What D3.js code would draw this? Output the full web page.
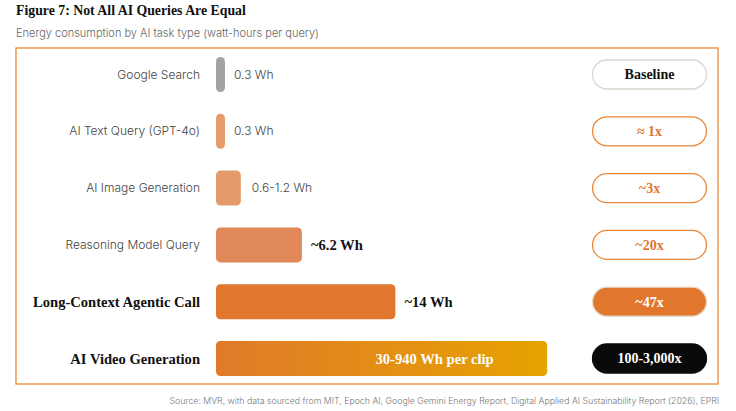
<!DOCTYPE html>
<html>
<head>
<meta charset="utf-8">
<title>Figure 7</title>
<script src="https://d3js.org/d3.v7.min.js"></script>
<style>
  body { margin: 0; background: #fff; }
  svg { display: block; }
</style>
</head>
<body>
<script>
// data
var tasks = ["Google Search", "AI Text Query (GPT-4o)", "AI Image Generation",
             "Reasoning Model Query", "Long-Context Agentic Call", "AI Video Generation"];
var valueLabels = ["0.3 Wh", "0.3 Wh", "0.6-1.2 Wh", "~6.2 Wh", "~14 Wh", "30-940 Wh per clip"];
// displayed bar length, % of the bar track (the chart is not drawn to scale)
var barShare = [2.6, 2.6, 7.2, 24.9, 52, 96];
var multipliers = ["Baseline", "\u2248 1x", "~3x", "~20x", "~47x", "100-3,000x"];
var emphasis = [false, false, false, false, true, true];

var W = 736, H = 411;
var svg = d3.select("body").append("svg").attr("width", W).attr("height", H);

var serif = "'Liberation Serif', 'DejaVu Serif', serif";
var sans = "Inter, 'Noto Sans', sans-serif";

var defs = svg.append("defs");
var grad = defs.append("linearGradient").attr("id", "vid");
grad.append("stop").attr("offset", "0%").attr("stop-color", "#e07a2b");
grad.append("stop").attr("offset", "100%").attr("stop-color", "#e6a200");

svg.append("text").attr("x", 16).attr("y", 14.5)
  .attr("font-family", serif).attr("font-weight", "bold").attr("font-size", 13.8)
  .attr("fill", "#111").text("Figure 7: Not All AI Queries Are Equal");

svg.append("text").attr("x", 16).attr("y", 37)
  .attr("font-family", sans).attr("font-weight", 300).attr("font-size", 11)
  .attr("fill", "#666").text("Energy consumption by AI task type (watt-hours per query)");

svg.append("rect").attr("x", 16).attr("y", 48).attr("width", 702).attr("height", 336)
  .attr("fill", "none").attr("stroke", "#e98a35").attr("stroke-width", 1.3);

var y = d3.scaleBand().domain(tasks).range([57, 376]).paddingInner(0.384).paddingOuter(0);
var x = d3.scaleLinear().domain([0, 100]).range([216, 561]);

var fills = ["#a3a3a3", "#e59b6c", "#e49a6a", "#e0885a", "#e0772d", "url(#vid)"];

var rows = svg.selectAll(".row").data(tasks).enter().append("g").attr("class", "row");

rows.append("text")
  .attr("x", 200)
  .attr("y", function(d) { return y(d) + y.bandwidth() / 2; })
  .attr("dy", "0.35em")
  .attr("text-anchor", "end")
  .attr("font-family", function(d, i) { return emphasis[i] ? serif : sans; })
  .attr("font-weight", function(d, i) { return emphasis[i] ? "bold" : 300; })
  .attr("font-size", function(d, i) { return emphasis[i] ? 14.6 : 12; })
  .attr("fill", function(d, i) { return emphasis[i] ? "#111" : "#444"; })
  .text(function(d) { return d; });

rows.append("rect")
  .attr("x", x(0))
  .attr("y", function(d) { return y(d); })
  .attr("width", function(d, i) { return x(barShare[i]) - x(0); })
  .attr("height", y.bandwidth())
  .attr("rx", function(d, i) { return Math.min(4.5, (x(barShare[i]) - x(0)) / 2); })
  .attr("fill", function(d, i) { return fills[i]; });

rows.append("text")
  .attr("x", function(d, i) {
    var end = x(barShare[i]);
    if (i === 5) return x(0) + (end - x(0)) * 0.66;
    return end + (i === 2 ? 11 : 9);
  })
  .attr("y", function(d) { return y(d) + y.bandwidth() / 2; })
  .attr("dy", "0.35em")
  .attr("text-anchor", function(d, i) { return i === 5 ? "middle" : "start"; })
  .attr("font-family", function(d, i) { return i >= 3 ? serif : sans; })
  .attr("font-weight", function(d, i) { return i >= 3 ? "bold" : 300; })
  .attr("font-size", function(d, i) { return i >= 3 ? 14.6 : 12; })
  .attr("fill", function(d, i) { return i === 5 ? "#fff" : (i >= 3 ? "#111" : "#444"); })
  .text(function(d, i) { return valueLabels[i]; });

// multiplier badges
var badgeFill = ["#fff", "#fff", "#fff", "#fff", "#e0772d", "#0a0a0a"];
var badgeStroke = ["#d9d7cd", "#e8883a", "#e8883a", "#e8883a", "#e9d8c8", "#0a0a0a"];
var badgeText = ["#111", "#e0772d", "#e0772d", "#e0772d", "#fff", "#fff"];

var badges = rows.append("g")
  .attr("transform", function(d) { return "translate(592," + (y(d) + y.bandwidth() / 2 - 14.5) + ")"; });

badges.append("rect")
  .attr("x", 0.5).attr("y", 0).attr("width", 114).attr("height", 29).attr("rx", 14.5)
  .attr("fill", function(d, i) { return badgeFill[i]; })
  .attr("stroke", function(d, i) { return badgeStroke[i]; })
  .attr("stroke-width", 1.3);

badges.append("text")
  .attr("x", 57.5).attr("y", 14.5).attr("dy", "0.35em")
  .attr("text-anchor", "middle")
  .attr("font-family", serif).attr("font-weight", "bold").attr("font-size", 14)
  .attr("fill", function(d, i) { return badgeText[i]; })
  .text(function(d, i) { return multipliers[i]; });

svg.append("text").attr("x", 719).attr("y", 404).attr("text-anchor", "end")
  .attr("font-family", sans).attr("font-weight", 300).attr("font-size", 8.75)
  .attr("fill", "#777")
  .text("Source: MVR, with data sourced from MIT, Epoch AI, Google Gemini Energy Report, Digital Applied AI Sustainability Report (2026), EPRI");
</script>
</body>
</html>
